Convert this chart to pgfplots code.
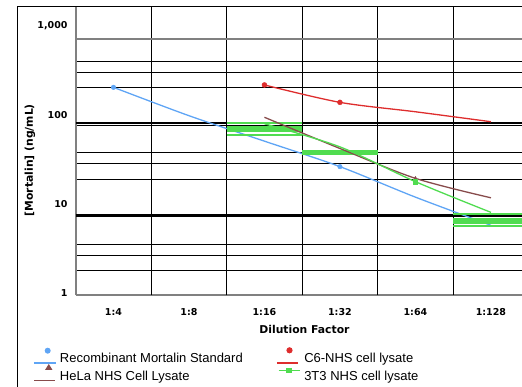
\documentclass[border=0pt]{standalone}
\usepackage{pgfplots}
\pgfplotsset{compat=1.18}
\usepackage{fontspec}
\setmainfont{DejaVu Sans}
\newfontfamily\legfont{Liberation Sans}
\usetikzlibrary{plotmarks}

\definecolor{cBlue}{RGB}{95,165,245}
\definecolor{cRed}{RGB}{222,45,45}
\definecolor{cBrown}{RGB}{135,75,75}
\definecolor{cGreen}{RGB}{80,220,80}
\definecolor{cGray}{RGB}{128,128,128}

\begin{document}
\begin{tikzpicture}[x=1pt,y=1pt]
\useasboundingbox (0,0) rectangle (522,386);
\clip (0,0) rectangle (522,386);
\draw[black, line width=1pt] (17.3,-2) -- (17.3,379) -- (530,379);

\begin{axis}[
  at={(75.7pt,90.7pt)}, anchor=south west,
  scale only axis, width=453pt, height=288.3pt,
  xmin=-0.5, xmax=5.5, ymode=log, ymin=0.95, ymax=1634,
  axis x line*=bottom, axis y line*=left,
  axis line style={draw=cGray, line width=2pt, -},
  xtick={0,1,2,3,4,5},
  xticklabels={1:4,1:8,1:16,1:32,1:64,1:128},
  extra x ticks={0.5,1.5,2.5,3.5,4.5},
  extra x tick labels={},
  extra x tick style={grid=major},
  ytick={1.79,2.64,3.55,18.8,28.5,38.5,77.4,205,302,402},
  yticklabels={},
  ymajorgrids=true,
  extra y ticks={1,10,100,1000},
  extra y tick labels={1,10,100,{1,000}},
  extra y tick style={grid=none},
  yminorticks=false,
  major tick length=0pt,
  tick style={draw=none},
  major grid style={black, line width=1pt},
  xticklabel style={font=\fontsize{9.5}{11}\selectfont\bfseries, anchor=base, yshift=-19.7pt},
  yticklabel style={font=\fontsize{9.5}{11}\selectfont\bfseries, anchor=east, inner sep=0pt, xshift=-8pt},
  xlabel={Dilution Factor},
  xlabel style={font=\fontsize{10.8}{12}\selectfont\bfseries, at={(axis description cs:0.505,-0.117)}, anchor=center},
  ylabel={{[}Mortalin] (ng/mL)},
  ylabel style={font=\fontsize{10.8}{12}\selectfont\bfseries, at={(axis description cs:-0.1009,0.469)}, anchor=center},
  legend columns=2,
  legend style={
    at={(axis description cs:-0.0934,-0.1793)}, anchor=north west,
    draw=none, fill=none, inner sep=0pt, outer sep=0pt,
    font=\legfont\fontsize{13}{15}\selectfont,
    cells={anchor=base west},
    nodes={inner sep=0pt, outer sep=0pt, text height=16pt, text depth=1pt},
    row sep=0.5pt,
    /tikz/every odd column/.append style={column sep=3.4pt},
    /tikz/every even column/.append style={column sep=33.4pt},
  },
]
% special gridlines
\draw[cGray, line width=1.7pt] (axis cs:-0.5,714) -- (axis cs:5.5,714);
\draw[black, line width=1.7pt] (axis cs:-0.5,82.2) -- (axis cs:5.5,82.2);
\draw[black, line width=2.7pt] (axis cs:-0.5,7.5) -- (axis cs:5.5,7.5);

% Recombinant Mortalin Standard
\addplot[cBlue, line width=1.3pt, smooth, no markers,
  legend image code/.code={\draw[cBlue, line width=1.2pt] (0pt,0pt) -- (22pt,0pt); \fill[cBlue] (13.7pt,12.3pt) circle (2.3pt);}]
  coordinates {(0,205)(1,98.5)(2,51)(3,26.4)(4,12.0)(5,5.8)};
\addlegendentry{Recombinant Mortalin Standard}
\addplot[forget plot, only marks, mark=*, mark size=2.3pt, cBlue] coordinates {(0,205)(3,26.4)};

% green bars
\addplot[forget plot, cGreen, line width=1.8pt] coordinates {(1.5,82.2)(2.5,82.2)};
\addplot[forget plot, cGreen, line width=5.7pt] coordinates {(1.5,69.8)(2.5,69.8)};
\addplot[forget plot, cGreen, line width=1.8pt] coordinates {(1.5,59.8)(2.5,59.8)};
\addplot[forget plot, cGreen, line width=5pt] coordinates {(2.5,38.1)(3.5,38.1)};
\addplot[forget plot, cGreen, line width=1.8pt] coordinates {(4.5,7.7)(5.5,7.7)};
\addplot[forget plot, cGreen, line width=5.7pt] coordinates {(4.5,6.45)(5.5,6.45)};
\addplot[forget plot, cGreen, line width=1.8pt] coordinates {(4.5,5.72)(5.5,5.72)};

% C6-NHS cell lysate
\addplot[cRed, line width=1.3pt, smooth, no markers,
  legend image code/.code={\draw[cRed, line width=1.2pt] (0pt,0pt) -- (21pt,0pt); \fill[cRed] (12.7pt,12.7pt) circle (2.4pt);}]
  coordinates {(2,218)(3,139)(4,109)(5,84.3)};
\addlegendentry{C6-NHS cell lysate}
\addplot[forget plot, only marks, mark=*, mark size=2.5pt, cRed] coordinates {(2,218)(3,139)};

% HeLa NHS Cell Lysate
\addplot[cBrown, line width=1.3pt, smooth, no markers,
  legend image code/.code={\draw[cBrown, line width=1.2pt] (0.5pt,0pt) -- (21pt,0pt); \fill[cBrown] (12.3pt,11.3pt) -- (17.3pt,11.3pt) -- (14.8pt,15.3pt) -- cycle;}]
  coordinates {(2,94.5)(3,42.2)(4,19.5)(5,11.8)};
\addlegendentry{HeLa NHS Cell Lysate}
\addplot[forget plot, only marks, mark=triangle*, mark size=2pt, cBrown] coordinates {(4,19.5)};

% 3T3 NHS cell lysate
\addplot[cGreen, line width=1.3pt, smooth, no markers,
  legend image code/.code={\draw[cGreen, line width=1.5pt] (1.7pt,10pt) -- (23.3pt,10pt); \fill[cGreen] (10pt,7.7pt) rectangle (14.6pt,12.3pt);}]
  coordinates {(2,80)(3,44)(4,17.9)(5,8.1)};
\addlegendentry{3T3 NHS cell lysate}
\addplot[forget plot, only marks, mark=square*, mark size=2.2pt, cGreen] coordinates {(4,17.9)};
\end{axis}
\end{tikzpicture}
\end{document}
